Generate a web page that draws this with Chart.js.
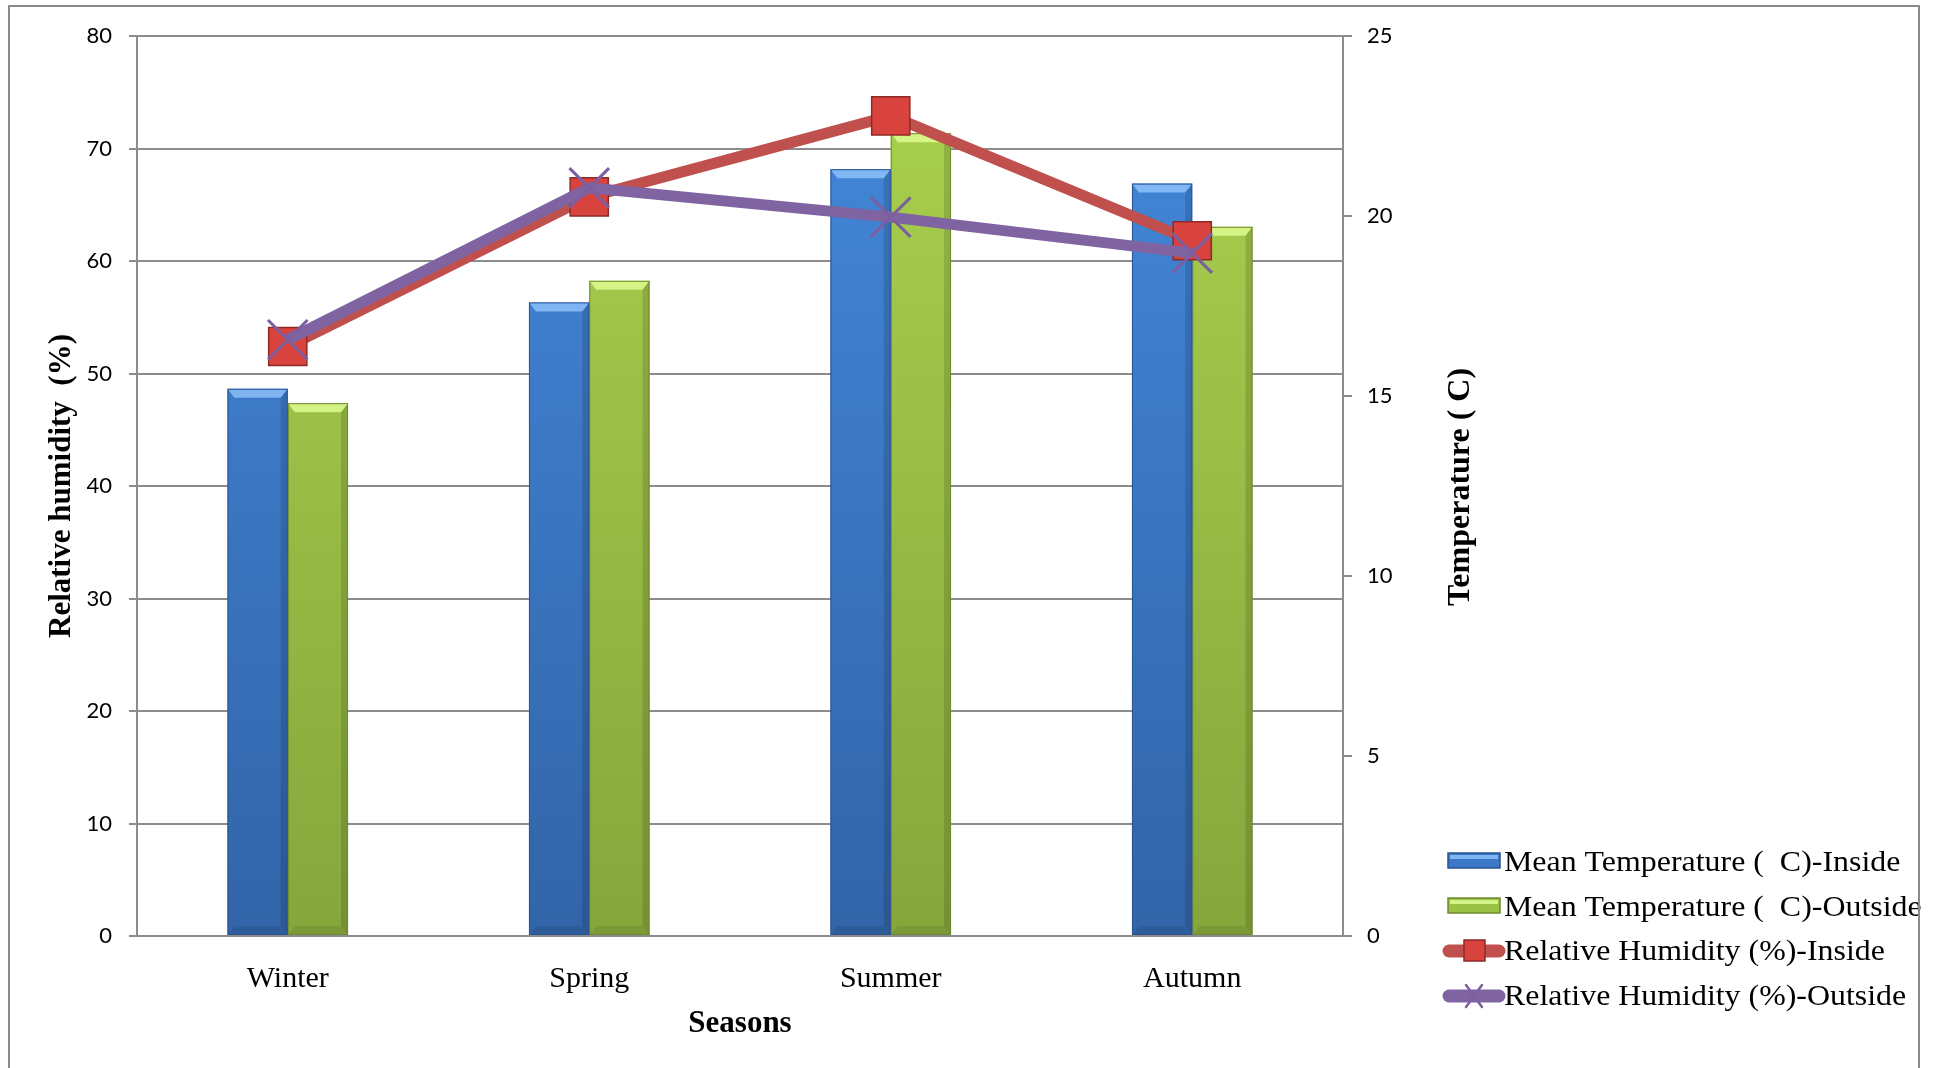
<!DOCTYPE html>
<html>
<head>
<meta charset="utf-8">
<script src="https://cdn.jsdelivr.net/npm/chart.js@4.4.1/dist/chart.umd.min.js"></script>
<style>
  body { margin: 0; background: #fff; }
  #wrap { position: relative; width: 1937px; height: 1068px; overflow: hidden; }
  #frame { position: absolute; left: 8px; top: 5px; width: 1912px; height: 1100px; border: 2px solid #8a8a8a; box-sizing: border-box; pointer-events: none; }
</style>
</head>
<body>
<div id="wrap">
  <canvas id="chart" width="1937" height="1068"></canvas>
  <div id="frame"></div>
</div>
<script>
// values
const seasons = ["Winter", "Spring", "Summer", "Autumn"];
const temp_inside = [15.2, 17.6, 21.3, 20.9];
const temp_outside = [14.8, 18.2, 22.3, 19.7];
const rh_inside = [52.4, 65.7, 72.9, 61.8];
const rh_outside = [53.0, 66.5, 63.9, 60.7];
const rh_axis = { min: 0, max: 80, step: 10 };
const temp_axis = { min: 0, max: 25, step: 5 };

const GRID = "#8c8c8c";
const TICK_FONT = { family: "Lato", size: 22 };
const SERIF = "Liberation Serif";

function bar_fill(top_color, bottom_color) {
  return function (c) {
    const area = c.chart.chartArea;
    if (!area) return top_color;
    const g = c.chart.ctx.createLinearGradient(0, area.top, 0, area.bottom);
    g.addColorStop(0, top_color);
    g.addColorStop(1, bottom_color);
    return g;
  };
}

// light top cap + dark right edge, like the bevelled Excel bars
const bar_bevel = {
  id: "bar_bevel",
  afterDatasetDraw(chart, args) {
    const ds = chart.data.datasets[args.index];
    if (ds.type !== "bar") return;
    const ctx = chart.ctx;
    args.meta.data.forEach(function (bar) {
      const l = bar.x - bar.width / 2, r = bar.x + bar.width / 2, t = bar.y, b = bar.base;
      ctx.save();
      ctx.fillStyle = ds.bevel_light;
      ctx.beginPath();
      ctx.moveTo(l, t); ctx.lineTo(r, t); ctx.lineTo(r - 7, t + 9); ctx.lineTo(l + 7, t + 9);
      ctx.closePath(); ctx.fill();
      ctx.fillStyle = "rgba(0,0,0,0.13)";
      ctx.beginPath();
      ctx.moveTo(r, t); ctx.lineTo(r, b); ctx.lineTo(r - 7, b - 9); ctx.lineTo(r - 7, t + 9);
      ctx.closePath(); ctx.fill();
      ctx.fillStyle = "rgba(0,0,0,0.08)";
      ctx.beginPath();
      ctx.moveTo(l, b); ctx.lineTo(r, b); ctx.lineTo(r - 7, b - 9); ctx.lineTo(l + 7, b - 9);
      ctx.closePath(); ctx.fill();
      ctx.strokeStyle = ds.edge;
      ctx.lineWidth = 1;
      ctx.strokeRect(l + 0.5, t + 0.5, bar.width - 1, b - t - 1);
      ctx.restore();
    });
  },
};

// right axis title (reads bottom to top) and the legend at bottom right
const extras = {
  id: "extras",
  afterDraw(chart) {
    const ctx = chart.ctx;
    ctx.save();
    ctx.fillStyle = "#000";
    ctx.font = "bold 32px " + SERIF;
    ctx.textAlign = "center";
    ctx.textBaseline = "middle";
    ctx.translate(1461, 487);
    ctx.rotate(-Math.PI / 2);
    ctx.fillText("Temperature ( C)", 0, 0);
    ctx.restore();

    const rows = [862, 907, 951, 996];
    chart.data.datasets.forEach(function (ds, i) {
      const y = rows[i];
      ctx.save();
      if (ds.type === "bar") {
        ctx.fillStyle = ds.legend_color;
        ctx.fillRect(1448, y - 9, 52, 15);
        ctx.fillStyle = ds.bevel_light;
        ctx.fillRect(1450, y - 7, 48, 4);
        ctx.strokeStyle = ds.edge;
        ctx.lineWidth = 1.5;
        ctx.strokeRect(1448, y - 9, 52, 15);
      } else {
        ctx.strokeStyle = ds.borderColor;
        ctx.lineWidth = 13;
        ctx.lineCap = "round";
        ctx.beginPath();
        ctx.moveTo(1449, y);
        ctx.lineTo(1499, y);
        ctx.stroke();
        if (ds.pointStyle === "rect") {
          ctx.fillStyle = ds.pointBackgroundColor;
          ctx.fillRect(1464, y - 11, 21, 21);
          ctx.strokeStyle = ds.pointBorderColor;
          ctx.lineWidth = 1.5;
          ctx.lineCap = "butt";
          ctx.strokeRect(1464, y - 11, 21, 21);
        } else {
          ctx.strokeStyle = ds.pointBorderColor;
          ctx.lineWidth = 2.5;
          ctx.beginPath();
          ctx.moveTo(1466, y - 11); ctx.lineTo(1482, y + 11);
          ctx.moveTo(1482, y - 11); ctx.lineTo(1466, y + 11);
          ctx.stroke();
        }
      }
      ctx.fillStyle = "#000";
      ctx.font = "29px " + SERIF;
      ctx.textAlign = "left";
      ctx.textBaseline = "middle";
      ctx.translate(1504, y + 1);
      ctx.scale(1.1, 1);
      ctx.fillText(ds.label, 0, 0);
      ctx.restore();
    });
  },
};

const chart = new Chart(document.getElementById("chart"), {
  data: {
    labels: seasons,
    datasets: [
      {
        type: "bar",
        label: "Mean Temperature (  C)-Inside",
        data: temp_inside,
        yAxisID: "y1",
        order: 2,
        backgroundColor: bar_fill("#4489dc", "#3264a8"),
        legend_color: "#3b78c6",
        bevel_light: "rgba(150,200,255,0.75)",
        edge: "#2a5390",
        borderWidth: 0,
        categoryPercentage: 0.4,
        barPercentage: 1.0,
      },
      {
        type: "bar",
        label: "Mean Temperature (  C)-Outside",
        data: temp_outside,
        yAxisID: "y1",
        order: 2,
        backgroundColor: bar_fill("#abd24f", "#86a63c"),
        legend_color: "#9bc146",
        bevel_light: "rgba(225,255,150,0.8)",
        edge: "#6d8a2e",
        borderWidth: 0,
        categoryPercentage: 0.4,
        barPercentage: 1.0,
      },
      {
        type: "line",
        label: "Relative Humidity (%)-Inside",
        data: rh_inside,
        yAxisID: "y",
        order: 1,
        borderColor: "#c0504d",
        borderWidth: 11,
        tension: 0,
        pointStyle: "rect",
        pointRadius: 27,
        pointBackgroundColor: "#d8433e",
        pointBorderColor: "#8e2a26",
        pointBorderWidth: 1.5,
      },
      {
        type: "line",
        label: "Relative Humidity (%)-Outside",
        data: rh_outside,
        yAxisID: "y",
        order: 0,
        borderColor: "#8064a2",
        borderWidth: 11,
        tension: 0,
        pointStyle: "crossRot",
        pointRadius: 28,
        pointBorderColor: "#7b5fa0",
        pointBorderWidth: 3,
      },
    ],
  },
  options: {
    responsive: false,
    animation: false,
    events: [],
    layout: { padding: { top: 36, left: 0, right: 0, bottom: 0 } },
    plugins: { legend: { display: false }, tooltip: { enabled: false } },
    scales: {
      x: {
        afterFit: function (s) { s.height = 132; },
        grid: { display: true, drawOnChartArea: false, drawTicks: false },
        border: { display: true, color: GRID, width: 2 },
        ticks: { color: "#000", font: { family: SERIF, size: 30 }, padding: 25 },
        title: {
          display: true,
          text: "Seasons",
          color: "#000",
          font: { family: SERIF, size: 31, weight: "bold" },
          padding: { top: 0, bottom: 25 },
        },
      },
      y: {
        position: "left",
        min: rh_axis.min,
        max: rh_axis.max,
        afterFit: function (s) { s.width = 137; },
        ticks: { stepSize: rh_axis.step, color: "#000", font: TICK_FONT, padding: 17 },
        grid: { color: GRID, lineWidth: 2, tickLength: 8 },
        border: { display: true, color: GRID, width: 2 },
        title: {
          display: true,
          text: "Relative humidity  (%)",
          color: "#000",
          font: { family: SERIF, size: 31, weight: "bold" },
          padding: { top: 43, bottom: 0 },
        },
      },
      y1: {
        position: "right",
        min: temp_axis.min,
        max: temp_axis.max,
        afterFit: function (s) { s.width = 1937 - 1343; },
        ticks: { stepSize: temp_axis.step, color: "#000", font: TICK_FONT, padding: 15 },
        grid: { drawOnChartArea: false, color: GRID, lineWidth: 2, tickLength: 9 },
        border: { display: true, color: GRID, width: 2 },
      },
    },
  },
  plugins: [bar_bevel, extras],
});
</script>
</body>
</html>
